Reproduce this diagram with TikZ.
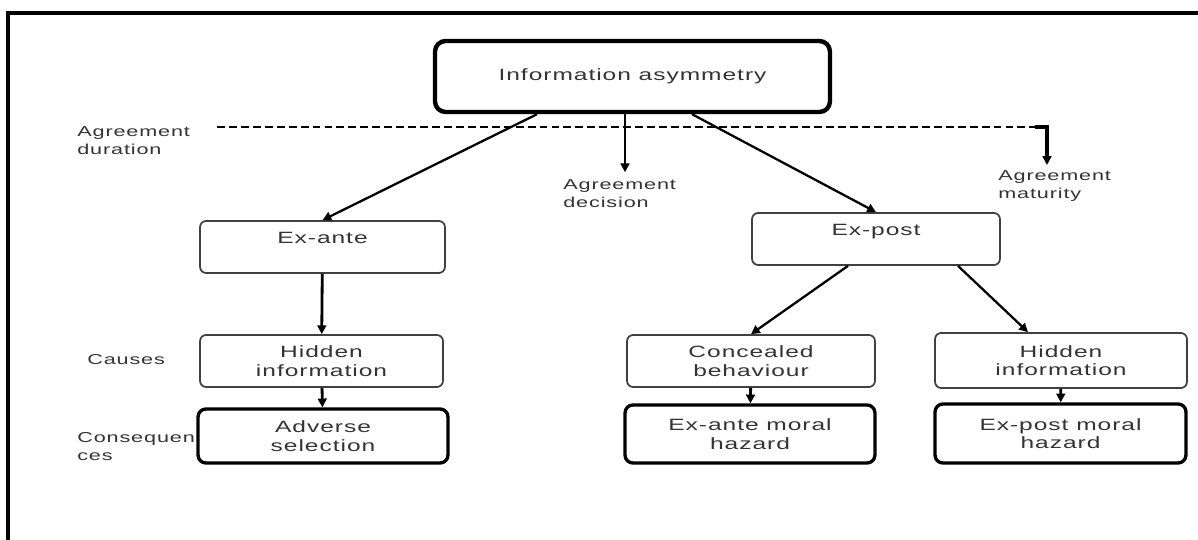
\documentclass[tikz,border=0pt]{standalone}
\usepackage{fontspec}
\newfontfamily\diagfont{Liberation Sans}[FakeStretch=1.5,LetterSpace=6]
\usetikzlibrary{arrows.meta}
\definecolor{textgrey}{HTML}{333333}
\definecolor{boxgrey}{HTML}{404040}
\tikzset{
  thinbox/.style={draw=boxgrey, line width=1pt, rounded corners=3.5pt, align=center,
    text=textgrey, inner sep=0pt, font=\diagfont\fontsize{9.3}{10.6}\selectfont},
  thickbox/.style={thinbox, draw=black, line width=1.9pt, rounded corners=4.5pt},
  sidelabel/.style={align=left, text=textgrey, inner sep=0pt,
    font=\diagfont\fontsize{8.2}{10.2}\selectfont},
  arr/.style={-{Triangle[length=5pt,width=5pt]}, line width=1.3pt},
}
\begin{document}
\begin{tikzpicture}[x=0.02cm, y=-0.02cm]
    \useasboundingbox (0,0) rectangle (1198,540);
    % Frame
    \draw[line width=2.2pt] (8,540) -- (8,13) -- (1198,13);

    % Boxes
    \node[thickbox, line width=2.5pt, rounded corners=6pt, minimum width=7.9cm, minimum height=1.42cm] (asym) at (632.5,76.5) {Information asymmetry};
    \node[thinbox, minimum width=4.9cm, minimum height=1.04cm] (exante) at (322.5,247) {Ex-ante\\\mbox{}};
    \node[thinbox, minimum width=4.96cm, minimum height=1.04cm] (expost) at (876,239) {Ex-post\\\mbox{}};
    \node[thinbox, minimum width=4.86cm, minimum height=1.04cm] (hiddenL) at (321.5,361) {Hidden\\information};
    \node[thinbox, minimum width=4.96cm, minimum height=1.04cm] (conceal) at (751,361) {Concealed\\behaviour};
    \node[thinbox, minimum width=5.04cm, minimum height=1.1cm] (hiddenR) at (1061,360.5) {Hidden\\information};
    \node[thickbox, minimum width=5cm, minimum height=1.08cm] (adverse) at (323,436) {Adverse\\selection};
    \node[thickbox, minimum width=5cm, minimum height=1.16cm] (antehazard) at (750,434) {Ex-ante moral\\hazard};
    \node[thickbox, minimum width=5.02cm, minimum height=1.18cm] (posthazard) at (1060.5,433.5) {Ex-post moral\\hazard};

    % Side labels
    \node[sidelabel, anchor=west] (duration) at (77,141) {Agreement\\duration};
    \node[sidelabel, anchor=west] (decision) at (563,194) {Agreement\\decision};
    \node[sidelabel, anchor=west] (maturity) at (998,186) {Agreement\\maturity};
    \node[sidelabel, anchor=west] (causes) at (87,360) {Causes};
    \node[sidelabel, anchor=west] (conseq) at (77,447) {Consequen\\ces};

    % Agreement duration line
    \coordinate (dashL) at (217,127);
    \coordinate (dashR) at (1035,127);
    \draw[line width=1.3pt, dash pattern=on 4.5pt off 2.3pt] (dashL) -- (dashR);
    \draw[arr, line width=1.8pt] (dashR) -- ++(12,0) -- ++(0,38);
    \draw[arr, line width=1.6pt] ([xshift=-0.15cm]asym.south) -- ++(0,58);

    % Connectors
    \draw[arr] ([xshift=-1.91cm]asym.south) -- (exante.north);
    \draw[arr] ([xshift=1.19cm]asym.south) -- (expost.north);
    \draw[arr, line width=1.6pt] (exante) -- (hiddenL);
    \draw[arr, line width=1.6pt] (hiddenL) -- (adverse);
    \draw[arr] ([xshift=-0.56cm]expost.south) -- (conceal.north);
    \draw[arr] ([xshift=1.64cm]expost.south) -- ([xshift=-0.66cm]hiddenR.north);
    \draw[arr, line width=1.6pt] (conceal) -- (antehazard);
    \draw[arr, line width=1.6pt] (hiddenR) -- (posthazard);
\end{tikzpicture}
\end{document}
